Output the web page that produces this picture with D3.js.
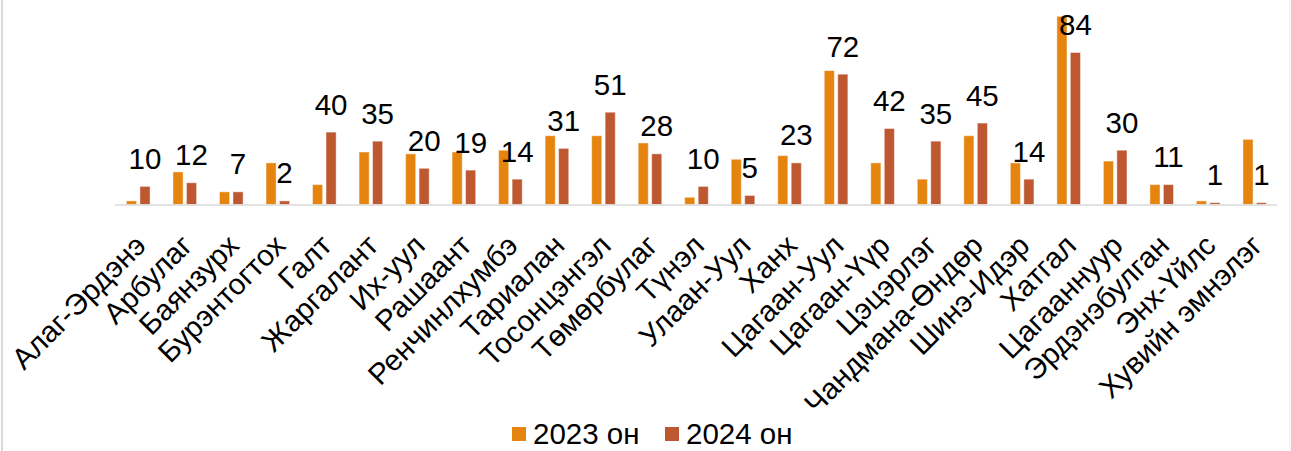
<!DOCTYPE html>
<html>
<head>
<meta charset="utf-8">
<script src="https://cdn.jsdelivr.net/npm/d3@7"></script>
<style>
  html, body { margin: 0; padding: 0; background: #fff; }
  svg { display: block; }
  text { font-family: "Liberation Sans", Arial, sans-serif; fill: #000; }
</style>
</head>
<body>
<svg id="chart" width="1291" height="451"></svg>
<script>
// Sum / facility names
const categories = [
  "Алаг-Эрдэнэ", "Арбулаг", "Баянзурх", "Бурэнтогтох", "Галт", "Жаргалант",
  "Их-уул", "Рашаант", "Ренчинлхумбэ", "Тариалан", "Тосонцэнгэл", "Төмөрбулаг",
  "Түнэл", "Улаан-Уул", "Ханх", "Цагаан-Уул", "Цагаан-Үүр", "Цэцэрлэг",
  "Чандмана-Өндөр", "Шинэ-Идэр", "Хатгал", "Цагааннуур", "Эрдэнэбулган",
  "Энх-Үйлс", "Хувийн эмнэлэг"
];

const seriesNames = ["2023 он", "2024 он"];

const values2023 = [2, 18, 7, 23, 11, 29, 28, 29, 30, 38, 38, 34,
                    4, 25, 27, 74, 23, 14, 38, 23, 104, 24, 11, 2, 36];

const values2024 = [10, 12, 7, 2, 40, 35, 20, 19, 14, 31, 51, 28,
                    10, 5, 23, 72, 42, 35, 45, 14, 84, 30, 11, 1, 1];

const colors = ["#E5850F", "#BD5830"];
const FONT = "29.5px";

const svg = d3.select("#chart");
const W = 1291, H = 451;

// outer frame (left and right edges of the chart box)
svg.append("line").attr("x1", 2).attr("x2", 2).attr("y1", 0).attr("y2", H)
  .attr("stroke", "#d9d9d9").attr("stroke-width", 2);
svg.append("line").attr("x1", 1290).attr("x2", 1290).attr("y1", 0).attr("y2", H)
  .attr("stroke", "#eeeeee").attr("stroke-width", 1);

const x = d3.scaleBand().domain(categories).range([115, 1278]).padding(0);
const x1 = d3.scaleBand().domain(seriesNames).range([-11.8, 11.8]).paddingInner(0.25);
const y = d3.scaleLinear().domain([0, 104]).range([204.5, 16.3]);

const rows = categories.map((c, i) => ({ cat: c, vals: [values2023[i], values2024[i]] }));

const groups = svg.append("g").selectAll("g").data(rows).join("g")
  .attr("transform", d => `translate(${x(d.cat) + x.bandwidth() / 2},0)`);

groups.selectAll("rect")
  .data(d => d.vals.map((v, k) => ({ v, k })))
  .join("rect")
  .attr("x", d => x1(seriesNames[d.k]))
  .attr("width", x1.bandwidth())
  .attr("y", d => y(d.v))
  .attr("height", d => y(0) - y(d.v))
  .attr("fill", d => colors[d.k])
  .attr("stroke", "#ffffff")
  .attr("stroke-opacity", 0.45)
  .attr("stroke-width", 1);

// category axis line
svg.append("line")
  .attr("x1", x.range()[0]).attr("x2", x.range()[1] - 1)
  .attr("y1", 205).attr("y2", 205)
  .attr("stroke", "#d9d9d9").attr("stroke-width", 1.5);

// data labels: 2024 values above the 2024 bars
groups.append("text")
  .attr("x", x1(seriesNames[1]) + x1.bandwidth() / 2)
  .attr("y", d => y(d.vals[1]) - 17.5)
  .attr("text-anchor", "middle")
  .style("font-size", FONT)
  .text(d => d.vals[1]);

// rotated category labels
svg.append("g").selectAll("text").data(categories).join("text")
  .attr("transform", d => `translate(${x(d) + x.bandwidth() / 2 + 2},240) rotate(-45)`)
  .attr("text-anchor", "end")
  .attr("dy", "0.35em")
  .style("font-size", FONT)
  .text(d => d);

// legend
const legend = svg.append("g");
const legendX = [512, 665];
seriesNames.forEach((name, k) => {
  legend.append("rect")
    .attr("x", legendX[k]).attr("y", 427)
    .attr("width", 14).attr("height", 14)
    .attr("fill", colors[k]);
  legend.append("text")
    .attr("x", legendX[k] + 21).attr("y", 444)
    .style("font-size", FONT)
    .text(name);
});
</script>
</body>
</html>
